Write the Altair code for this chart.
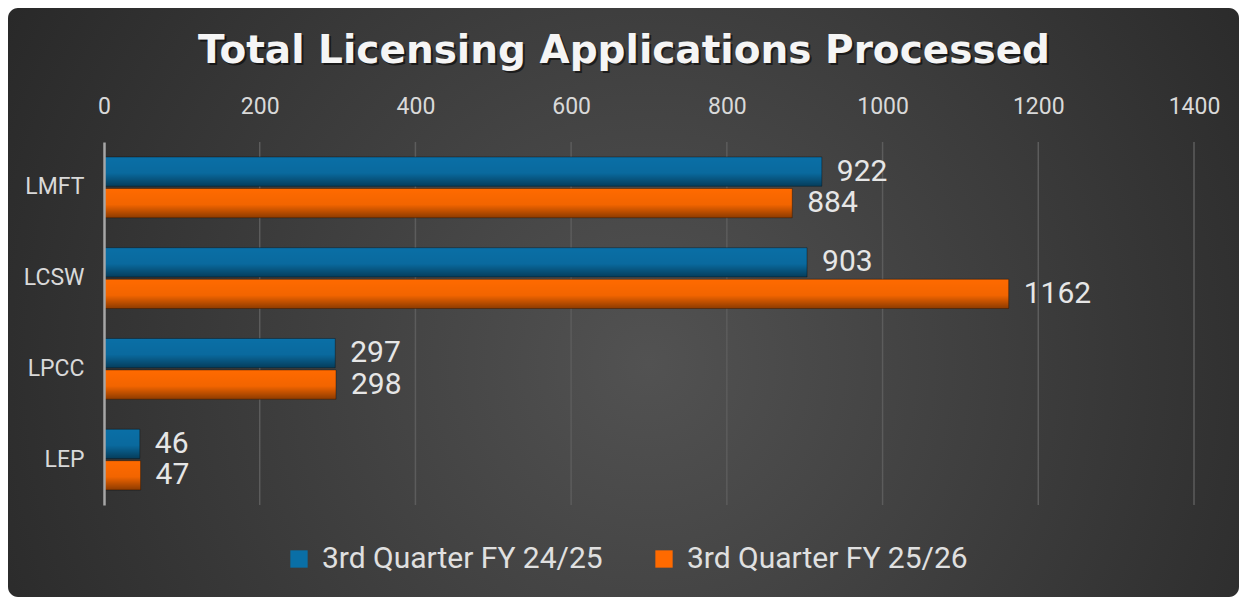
import altair as alt
import pandas as pd

# ---- data ----
categories = ["LMFT", "LCSW", "LPCC", "LEP"]
series_names = ["3rd Quarter FY 24/25", "3rd Quarter FY 25/26"]
fy2425 = [922, 903, 297, 46]
fy2526 = [884, 1162, 298, 47]
x_ticks = [0, 200, 400, 600, 800, 1000, 1200, 1400]
title_text = "Total Licensing Applications Processed"
colors = ["#0a6fa6", "#ff6a00"]

rows = []
for c, a, b in zip(categories, fy2425, fy2526):
    rows.append({"Category": c, "Series": series_names[0], "Value": a})
    rows.append({"Category": c, "Series": series_names[1], "Value": b})
df = pd.DataFrame(rows)

W, H = 1090, 363
PAD = {"left": 96, "top": 134, "right": 45, "bottom": 92}

xscale = alt.Scale(domain=[0, 1400], nice=False)
yscale = alt.Scale(paddingInner=0.33, paddingOuter=0.165)
yoff_scale = alt.Scale(paddingInner=0.07)

x_axis = alt.Axis(
    orient="top", values=x_ticks, format="d", labelColor="#d9d9d9",
    labelFont="Roboto", labelFontSize=23, ticks=False, labelFlush=False,
    domain=False, grid=False, labelPadding=24, zindex=1, title=None,
)
y_axis = alt.Axis(
    labelColor="#d9d9d9", labelFont="Roboto", labelFontSize=23,
    ticks=False, domainColor="#a6a6a6", domainWidth=2.5,
    labelPadding=20, zindex=1, title=None,
)

# background radial gradient panel
bg = alt.Chart(pd.DataFrame({"k": [1]})).mark_rect(
    cornerRadius=10,
    fill={
        "gradient": "radial",
        "x1": 0.52, "y1": 0.55, "r1": 0,
        "x2": 0.52, "y2": 0.55, "r2": 0.75,
        "stops": [
            {"offset": 0, "color": "#525252"},
            {"offset": 1, "color": "#1e1e1e"},
        ],
    },
).encode(
    x=alt.value(-PAD["left"]),
    x2=alt.value(W + PAD["right"]),
    y=alt.value(-PAD["top"]),
    y2=alt.value(H + PAD["bottom"]),
)

base = alt.Chart(df)

x_enc = alt.X("Value:Q", scale=xscale, title=None, axis=x_axis)
y_enc = alt.Y("Category:N", sort=categories, scale=yscale, title=None, axis=y_axis)
yoff_enc = alt.YOffset("Series:N", sort=series_names, scale=yoff_scale)

# gridlines
grid = alt.Chart(pd.DataFrame({"Value": x_ticks[1:]})).mark_rule(
    color="#5c5c5c", strokeWidth=1.5
).encode(
    x=x_enc,
    y=alt.value(0),
    y2=alt.value(H),
)

bars = base.mark_bar().encode(
    x=x_enc,
    y=y_enc,
    yOffset=yoff_enc,
    color=alt.Color(
        "Series:N", sort=series_names,
        scale=alt.Scale(domain=series_names, range=colors),
        legend=alt.Legend(
            title=None, orient="none", direction="horizontal",
            legendX=180, legendY=402, symbolType="square", symbolSize=300,
            symbolStrokeWidth=0, labelColor="#e0e0e0", labelFont="Roboto",
            labelFontSize=30, labelOffset=8, columnPadding=46, padding=0,
            labelLimit=400,
        ),
    ),
)

shade = base.mark_bar(
    fill={
        "gradient": "linear", "x1": 0, "y1": 0, "x2": 0, "y2": 1,
        "stops": [
            {"offset": 0, "color": "rgba(0,0,0,0)"},
            {"offset": 0.55, "color": "rgba(0,0,0,0.05)"},
            {"offset": 1, "color": "rgba(0,0,0,0.45)"},
        ],
    },
    stroke="rgba(0,0,0,0.35)", strokeWidth=1,
).encode(
    x=x_enc,
    y=y_enc,
    yOffset=yoff_enc,
)

labels = base.mark_text(
    align="left", baseline="middle", dx=15, font="Roboto",
    fontSize=30, color="#e6e6e6",
).encode(
    x=x_enc,
    y=y_enc,
    yOffset=yoff_enc,
    text=alt.Text("Value:Q"),
)

tdf = pd.DataFrame({"t": [title_text]})
title_shadow = alt.Chart(tdf).mark_text(
    font="DejaVu Sans", fontWeight="bold", fontSize=39, color="#000000",
    opacity=0.55, align="center", baseline="alphabetic",
).encode(x=alt.value(522), y=alt.value(-77), text="t:N")
title = alt.Chart(tdf).mark_text(
    font="DejaVu Sans", fontWeight="bold", fontSize=39, color="#f5f5f5",
    align="center", baseline="alphabetic",
).encode(x=alt.value(520), y=alt.value(-79), text="t:N")

chart = alt.layer(bg, grid, bars, shade, labels, title_shadow, title).properties(
    width=W, height=H, padding=PAD,
    autosize=alt.AutoSizeParams(type="none"),
    background="white",
).configure_view(strokeWidth=0)

chart.save("out.html", embed_options={"renderer": "svg", "actions": False})
